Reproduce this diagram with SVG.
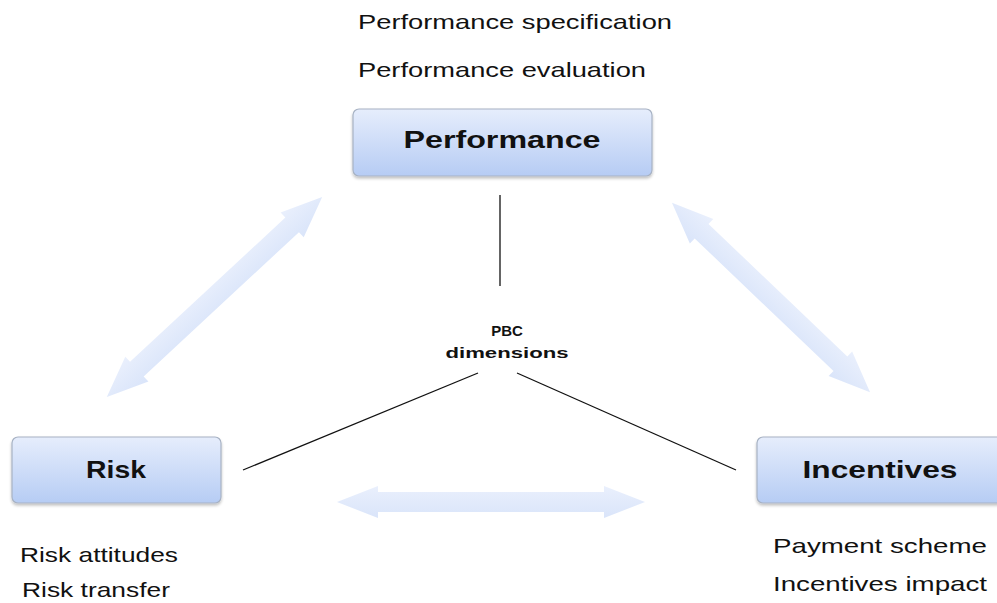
<svg xmlns="http://www.w3.org/2000/svg" width="997" height="603" viewBox="0 0 997 603">
<defs>
<linearGradient id="boxg" x1="0" y1="0" x2="0" y2="1">
<stop offset="0" stop-color="#e6edfc"/>
<stop offset="1" stop-color="#b6ccf4"/>
</linearGradient>
<linearGradient id="arrg" x1="0" y1="0" x2="0" y2="1">
<stop offset="0" stop-color="#e6edfc"/>
<stop offset="1" stop-color="#d3e0f9"/>
</linearGradient>
<filter id="sh" x="-10%" y="-10%" width="120%" height="130%">
<feGaussianBlur in="SourceAlpha" stdDeviation="1.5"/>
<feOffset dy="2"/>
<feComponentTransfer><feFuncA type="linear" slope="0.25"/></feComponentTransfer>
<feMerge><feMergeNode/><feMergeNode in="SourceGraphic"/></feMerge>
</filter>
</defs>
<style>
.box{fill:url(#boxg);stroke:#a7b2c4;stroke-width:1.2;filter:url(#sh)}
.title{font-family:"Liberation Sans",Arial,sans-serif;font-weight:bold;font-size:24px;fill:#111;text-anchor:middle}
.item{font-family:"Liberation Sans",Arial,sans-serif;font-size:21px;fill:#111}
.pbc{font-family:"Liberation Sans",Arial,sans-serif;font-weight:bold;font-size:15px;fill:#111;text-anchor:middle}
.ln{stroke:#111;stroke-width:1.3;fill:none}
.arr{fill:url(#arrg);opacity:0.85}
</style>
<rect width="997" height="603" fill="#fff"/>

<g id="connectors">
<polygon class="arr" transform="translate(214.5,297) rotate(-42.9)" points="-147,0 -106,-17 -106,-10 106,-10 106,-17 147,0 106,17 106,10 -106,10 -106,17"/>
<polygon class="arr" transform="translate(771,297.5) rotate(43.7)" points="-137,0 -96,-17 -96,-10 96,-10 96,-17 137,0 96,17 96,10 -96,10 -96,17"/>
<polygon class="arr" transform="translate(491,502)" points="-154,0 -113,-16 -113,-10 113,-10 113,-16 154,0 113,16 113,10 -113,10 -113,16"/>
<line class="ln" x1="500" y1="195" x2="500" y2="286"/>
<line class="ln" x1="478" y1="373" x2="243" y2="470"/>
<line class="ln" x1="517" y1="373" x2="736" y2="470"/>
</g>

<g id="top-labels">
<text class="item" x="358" y="29" textLength="314" lengthAdjust="spacingAndGlyphs">Performance specification</text>
<text class="item" x="358" y="77" textLength="288" lengthAdjust="spacingAndGlyphs">Performance evaluation</text>
</g>

<g id="performance">
<rect class="box" x="353" y="109" width="299" height="67" rx="6"/>
<text class="title" x="502" y="148" textLength="197" lengthAdjust="spacingAndGlyphs">Performance</text>
</g>

<g id="pbc">
<text class="pbc" x="507" y="336">PBC</text>
<text class="pbc" x="507" y="358" textLength="123" lengthAdjust="spacingAndGlyphs">dimensions</text>
</g>

<g id="risk">
<rect class="box" x="12" y="437" width="209" height="66" rx="6"/>
<text class="title" x="116" y="478" textLength="60" lengthAdjust="spacingAndGlyphs">Risk</text>
<text class="item" x="20" y="562" textLength="158" lengthAdjust="spacingAndGlyphs">Risk attitudes</text>
<text class="item" x="22" y="597" textLength="148" lengthAdjust="spacingAndGlyphs">Risk transfer</text>
</g>

<g id="incentives">
<rect class="box" x="757" y="437" width="246" height="66" rx="6"/>
<text class="title" x="880" y="478" textLength="155" lengthAdjust="spacingAndGlyphs">Incentives</text>
<text class="item" x="773" y="553" textLength="214" lengthAdjust="spacingAndGlyphs">Payment  scheme</text>
<text class="item" x="773" y="591" textLength="214" lengthAdjust="spacingAndGlyphs">Incentives impact</text>
</g>
</svg>
